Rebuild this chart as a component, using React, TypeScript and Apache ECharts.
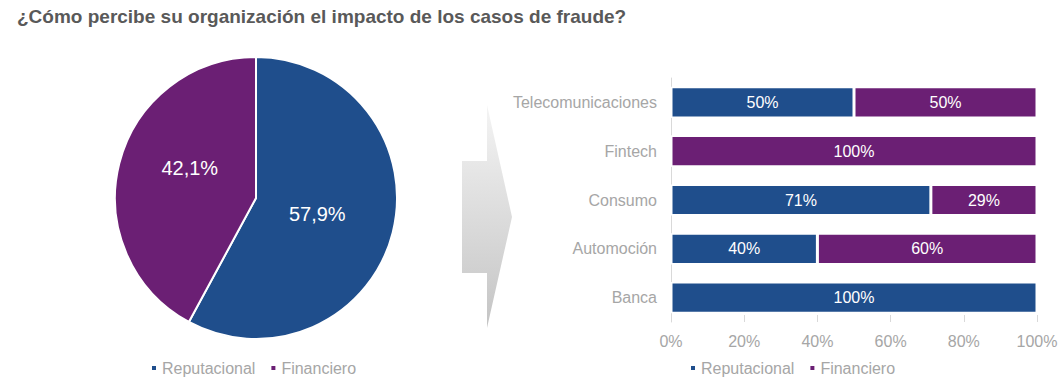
import React, { useEffect, useRef } from "react";
import * as echarts from "echarts";

const TITLE = "¿Cómo percibe su organización el impacto de los casos de fraude?";
const SERIES_NAMES = ["Reputacional", "Financiero"];
const PIE_VALUES = [57.9, 42.1];
const CATEGORIES = ["Telecomunicaciones", "Fintech", "Consumo", "Automoción", "Banca"];
const REPUTACIONAL = [50, 0, 71, 40, 100];
const FINANCIERO = [50, 100, 29, 60, 0];
const X_TICKS = [0, 20, 40, 60, 80, 100];

const BLUE = "#1f4e8c";
const PURPLE = "#6b1f74";
const GREY = "#a6a6a6";
const FONT = "Liberation Sans, Arial, sans-serif";

export default function App() {
  const ref = useRef<HTMLDivElement>(null);
  useEffect(() => {
    if (!ref.current) return;
    const chart = echarts.init(ref.current, null, { renderer: "svg" });
    const colors = [BLUE, PURPLE];
    const legendText = { color: GREY, fontSize: 16, fontFamily: FONT };
    chart.setOption({
      animation: false,
      textStyle: { fontFamily: FONT },
      title: {
        text: TITLE,
        left: 12,
        top: 2,
        textStyle: { fontSize: 19, fontWeight: "bold", color: "#595959", fontFamily: FONT },
      },
      legend: [
        {
          data: SERIES_NAMES,
          left: 145,
          top: 355,
          itemWidth: 6,
          itemHeight: 6,
          itemGap: 14,
          icon: "rect",
          textStyle: legendText,
        },
        {
          data: SERIES_NAMES,
          left: 684,
          top: 355,
          itemWidth: 6,
          itemHeight: 6,
          itemGap: 14,
          icon: "rect",
          textStyle: legendText,
        },
      ],
      grid: { left: 671, right: 27, top: 78, bottom: 65, containLabel: false },
      xAxis: {
        type: "value",
        min: X_TICKS[0],
        max: X_TICKS[X_TICKS.length - 1],
        interval: X_TICKS[1] - X_TICKS[0],
        axisLine: { show: false },
        axisTick: { show: true, inside: true, length: 7, lineStyle: { color: "#d9d9d9" } },
        splitLine: { show: false },
        axisLabel: { formatter: "{value}%", color: GREY, fontSize: 16, margin: 11, fontFamily: FONT },
      },
      yAxis: {
        type: "category",
        inverse: true,
        data: CATEGORIES,
        axisLine: { show: true, lineStyle: { color: "#d9d9d9" } },
        axisTick: { show: false },
        axisLabel: { color: GREY, fontSize: 16, margin: 14, fontFamily: FONT },
      },
      graphic: [
        {
          type: "polygon",
          shape: {
            points: [
              [462, 161],
              [487, 161],
              [487, 105],
              [512, 217],
              [487, 328],
              [487, 273],
              [462, 273],
            ],
          },
          style: {
            fill: new echarts.graphic.LinearGradient(0, 0, 0, 1, [
              { offset: 0, color: "#f4f4f4" },
              { offset: 1, color: "#c4c4c4" },
            ]),
          },
          silent: true,
        },
      ],
      series: [
        {
          type: "pie",
          center: [256, 198],
          radius: 141,
          startAngle: 90,
          clockwise: true,
          legendHoverLink: false,
          itemStyle: { borderColor: "#fff", borderWidth: 2 },
          label: {
            show: true,
            position: "inside",
            color: "#fff",
            fontSize: 20,
            fontFamily: FONT,
            formatter: (p: any) => p.value.toFixed(1).replace(".", ",") + "%",
          },
          labelLine: { show: false },
          labelLayout: (p: any) => (p.dataIndex === 1 ? { dy: -12, dx: 5 } : { dx: -10, dy: -2 }),
          data: SERIES_NAMES.map((n, i) => ({ name: n, value: PIE_VALUES[i], itemStyle: { color: colors[i] } })),
        },
        ...[REPUTACIONAL, FINANCIERO].map((vals, i) => ({
          type: "bar",
          name: SERIES_NAMES[i],
          stack: "total",
          barCategoryGap: "36%",
          data: vals,
          itemStyle: { color: colors[i], borderColor: "#fff", borderWidth: 1.5 },
          label: {
            show: true,
            position: "inside",
            color: "#fff",
            fontSize: 16,
            fontFamily: FONT,
            formatter: (p: any) => (p.value > 0 ? p.value + "%" : ""),
          },
        })),
      ],
    });
    return () => chart.dispose();
  }, []);
  return <div ref={ref} style={{ position: "absolute", left: 0, top: 0, width: 1064, height: 387 }} />;
}
